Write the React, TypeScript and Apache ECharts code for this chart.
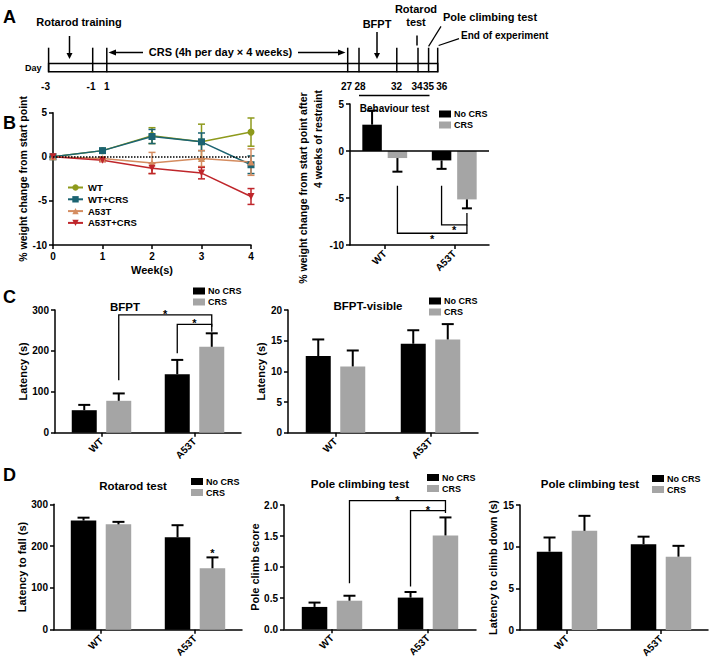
import React, { useEffect, useRef } from 'react';
import * as echarts from 'echarts';

const FONT = '"Liberation Sans", Arial, Helvetica, sans-serif';
const GREY = '#a5a5a5';

// ---------- Panel A: timeline (days) ----------
const timelineDays = [-3, -1, 1, 27, 28, 32, 34, 35, 36];

// ---------- Panel B (left): weight change over weeks ----------
const weeks = [0, 1, 2, 3, 4];
const wtWeight = [0, 0.7, 2.4, 1.7, 2.8];
const wtWeightErr = [0, 0.15, 0.9, 2.0, 1.6];
const wtCrsWeight = [0, 0.7, 2.3, 1.7, -0.9];
const wtCrsWeightErr = [0, 0.2, 0.8, 1.0, 1.0];
const a53tWeight = [0, -0.2, -0.7, -0.2, -0.6];
const a53tWeightErr = [0, 0.2, 1.2, 0.9, 1.5];
const a53tCrsWeight = [0, -0.4, -1.3, -1.85, -4.5];
const a53tCrsWeightErr = [0, 0.15, 0.6, 0.65, 0.9];

// ---------- Bar panels ----------
const genotypes = ['WT', 'A53T'];
const weightNoCrs = [2.8, -1.0];
const weightNoCrsErr = [1.5, 0.9];
const weightCrs = [-0.75, -5.15];
const weightCrsErr = [1.45, 0.95];

const bfptNoCrs = [55, 143];
const bfptNoCrsErr = [13, 35];
const bfptCrs = [78, 210];
const bfptCrsErr = [18, 33];

const bfptVisNoCrs = [12.5, 14.5];
const bfptVisNoCrsErr = [2.7, 2.2];
const bfptVisCrs = [10.8, 15.2];
const bfptVisCrsErr = [2.6, 2.5];

const rotarodNoCrs = [261, 221];
const rotarodNoCrsErr = [7, 29];
const rotarodCrs = [252, 147];
const rotarodCrsErr = [6, 26];

const poleScoreNoCrs = [0.36, 0.51];
const poleScoreNoCrsErr = [0.07, 0.09];
const poleScoreCrs = [0.46, 1.51];
const poleScoreCrsErr = [0.08, 0.29];

const poleTimeNoCrs = [9.4, 10.3];
const poleTimeNoCrsErr = [1.7, 0.9];
const poleTimeCrs = [11.9, 8.8];
const poleTimeCrsErr = [1.8, 1.3];

// significance brackets: [cat1, bar1, yStart1, cat2, bar2, yStart2, yBracket]
const weightBrackets = [
  [1, 0, -3.7, 1, 1, -6.6, -7.85],
  [0, 1, -3.7, 1, 1, -7.85, -8.75],
];
const bfptBrackets = [
  [0, 1, 128, 1, 1, 259, 288],
  [1, 0, 194, 1, 1, 247, 265],
];
const poleScoreBrackets = [
  [0, 1, 0.74, 1, 1, 1.91, 2.07],
  [1, 0, 0.69, 1, 1, 1.87, 1.91],
];
// lone star: [cat, bar, y]
const rotarodStars = [[1, 1, 190]];

// ---------- layout (positions, not data) ----------
const dayTickX = [48.6, 92.7, 106.8, 347.7, 359, 396.8, 418, 428.6, 437.7];
const dayLabelX = [45.5, 91, 106.8, 346.6, 360, 396.6, 417, 428.6, 441.7];

const grids = [
  { left: 53, top: 112.7, width: 198, height: 132.3 },
  { left: 350, top: 104, width: 139, height: 141 },
  { left: 55, top: 310, width: 186, height: 122.7 },
  { left: 288, top: 310, width: 190, height: 122.7 },
  { left: 54, top: 504.3, width: 188, height: 125.4 },
  { left: 284, top: 505, width: 192, height: 124.3 },
  { left: 520, top: 505, width: 188, height: 125 },
];

const txt = (text: string, x: number, y: number, size: number, align = 'center', vAlign = 'middle', rotation = 0) => ({
  type: 'text', x, y, rotation, silent: true,
  style: { text, fontSize: size, fontWeight: 'bold', fontFamily: FONT, fill: '#000', textAlign: align, textVerticalAlign: vAlign },
});
const ln = (x1: number, y1: number, x2: number, y2: number, w = 1.5) => ({
  type: 'line', silent: true, shape: { x1, y1, x2, y2 }, style: { stroke: '#000', lineWidth: w },
});
const tri = (pts: number[][]) => ({ type: 'polygon', silent: true, shape: { points: pts }, style: { fill: '#000' } });
const downArrow = (x: number, y1: number, y2: number) => [ln(x, y1, x, y2 - 4), tri([[x - 3, y2 - 6], [x + 3, y2 - 6], [x, y2]])];

const axisLineStyle = { show: true, onZero: false, lineStyle: { color: '#000', width: 1.5 } };
const axisTickStyle = { show: true, length: 4, lineStyle: { color: '#000', width: 1.5 } };
const labelStyle = { color: '#000', fontSize: 10, fontWeight: 'bold', fontFamily: FONT, margin: 6 };
const nameStyle = { color: '#000', fontSize: 11, fontWeight: 'bold', fontFamily: FONT };

function valueY(idx: number, min: number, max: number, interval: number, name: string, nameGap: number, fmt?: (v: number) => string) {
  return {
    type: 'value', gridIndex: idx, min, max, interval,
    name, nameLocation: 'middle', nameGap, nameTextStyle: nameStyle,
    axisLine: axisLineStyle, axisTick: axisTickStyle,
    axisLabel: fmt ? { ...labelStyle, formatter: fmt } : labelStyle,
    splitLine: { show: false },
  };
}
function catX(idx: number) {
  return {
    type: 'category', gridIndex: idx, data: genotypes, boundaryGap: true,
    axisLine: axisLineStyle, axisTick: { ...axisTickStyle, alignWithLabel: true },
    axisLabel: { ...labelStyle, rotate: 45, margin: 7 },
    splitLine: { show: false },
  };
}

function barErr(idx: number, vals: number[], errs: number[], barIndex: number, W: number, gap: number, cap: number) {
  const off = ((W * (1 + gap)) / 2) * (barIndex === 0 ? -1 : 1);
  return {
    type: 'custom', name: 'err' + idx + '_' + barIndex, xAxisIndex: idx, yAxisIndex: idx, z: 5, silent: true,
    encode: { x: 0, y: 1 },
    data: vals.map((v, i) => [i, v, errs[i]]),
    renderItem: (_p: any, api: any) => {
      const cat = api.value(0), v = api.value(1), e = api.value(2);
      const base = api.coord([cat, v]);
      const end = api.coord([cat, v + (v >= 0 ? e : -e)]);
      const x = base[0] + off;
      return {
        type: 'group', children: [
          { type: 'line', shape: { x1: x, y1: base[1], x2: x, y2: end[1] }, style: { stroke: '#000', lineWidth: 2 } },
          { type: 'line', shape: { x1: x - cap / 2, y1: end[1], x2: x + cap / 2, y2: end[1] }, style: { stroke: '#000', lineWidth: 2 } },
        ],
      };
    },
  };
}

function brackets(idx: number, data: number[][], W: number, gap: number) {
  const off = (W * (1 + gap)) / 2;
  return {
    type: 'custom', name: 'sig' + idx, xAxisIndex: idx, yAxisIndex: idx, z: 6, silent: true,
    encode: { x: 0, y: 2 },
    data,
    renderItem: (_p: any, api: any) => {
      const c1 = api.value(0), b1 = api.value(1), y1 = api.value(2);
      const c2 = api.value(3), b2 = api.value(4), y2 = api.value(5), ym = api.value(6);
      const p1 = api.coord([c1, y1]);
      const p2 = api.coord([c2, y2]);
      const pm = api.coord([c2, ym]);
      const x1 = p1[0] + (b1 === 0 ? -off : off);
      const x2 = p2[0] + (b2 === 0 ? -off : off);
      const up = ym > y1;
      return {
        type: 'group', children: [
          { type: 'polyline', shape: { points: [[x1, p1[1]], [x1, pm[1]], [x2, pm[1]], [x2, p2[1]]] }, style: { stroke: '#000', lineWidth: 1.3, fill: null } },
          { type: 'text', style: { text: '*', x: (x1 + x2) / 2, y: pm[1] + (up ? -1 : 5.5), textAlign: 'center', textVerticalAlign: 'middle', fontSize: 11, fontWeight: 'bold', fontFamily: FONT, fill: '#000' } },
        ],
      };
    },
  };
}

function stars(idx: number, data: number[][], W: number, gap: number) {
  const off = (W * (1 + gap)) / 2;
  return {
    type: 'custom', name: 'star' + idx, xAxisIndex: idx, yAxisIndex: idx, z: 6, silent: true,
    encode: { x: 0, y: 2 },
    data,
    renderItem: (_p: any, api: any) => {
      const p = api.coord([api.value(0), api.value(2)]);
      const x = p[0] + (api.value(1) === 0 ? -off : off);
      return { type: 'text', style: { text: '*', x, y: p[1] + 2.5, textAlign: 'center', textVerticalAlign: 'middle', fontSize: 11, fontWeight: 'bold', fontFamily: FONT, fill: '#000' } };
    },
  };
}

function barPair(idx: number, noCrs: number[], noErr: number[], crs: number[], crsErr: number[], W: number, gap: number, cap: number, zeroLine = false) {
  const s: any[] = [
    {
      type: 'bar', name: 'No CRS', xAxisIndex: idx, yAxisIndex: idx, data: noCrs, barWidth: W, barGap: gap * 100 + '%',
      itemStyle: { color: '#000' }, silent: true,
      markLine: zeroLine ? { silent: true, symbol: 'none', label: { show: false }, lineStyle: { color: '#000', width: 1.5, type: 'solid' }, data: [{ yAxis: 0 }] } : undefined,
    },
    { type: 'bar', name: 'CRS', xAxisIndex: idx, yAxisIndex: idx, data: crs, barWidth: W, barGap: gap * 100 + '%', itemStyle: { color: GREY }, silent: true },
    barErr(idx, noCrs, noErr, 0, W, gap, cap),
    barErr(idx, crs, crsErr, 1, W, gap, cap),
  ];
  return s;
}

function lineSeries(name: string, vals: number[], errs: number[], color: string, symbol: string, withZero = false) {
  return [
    {
      type: 'line', name, xAxisIndex: 0, yAxisIndex: 0, data: weeks.map((w, i) => [w, vals[i]]),
      symbol, symbolSize: 7, itemStyle: { color }, lineStyle: { color, width: 1.5 }, z: 4,
      markLine: withZero ? { silent: true, symbol: 'none', label: { show: false }, lineStyle: { color: '#000', width: 1.5, type: 'dotted' }, data: [{ yAxis: 0 }] } : undefined,
    },
    {
      type: 'custom', name: name + ' err', xAxisIndex: 0, yAxisIndex: 0, z: 3, silent: true,
      encode: { x: 0, y: 1 },
      data: weeks.map((w, i) => [w, vals[i], errs[i]]),
      renderItem: (_p: any, api: any) => {
        const w = api.value(0), v = api.value(1), e = api.value(2);
        const hi = api.coord([w, v + e]);
        const lo = api.coord([w, v - e]);
        const x = hi[0];
        const st = { stroke: color, lineWidth: 1.5 };
        return {
          type: 'group', children: [
            { type: 'line', shape: { x1: x, y1: hi[1], x2: x, y2: lo[1] }, style: st },
            { type: 'line', shape: { x1: x - 3.5, y1: hi[1], x2: x + 3.5, y2: hi[1] }, style: st },
            { type: 'line', shape: { x1: x - 3.5, y1: lo[1], x2: x + 3.5, y2: lo[1] }, style: st },
          ],
        };
      },
    },
  ];
}

function barLegend(left: number, top: number) {
  return {
    data: ['No CRS', 'CRS'], orient: 'vertical', left, top, padding: 0, itemGap: 2,
    itemWidth: 12, itemHeight: 7, icon: 'rect', selectedMode: false,
    textStyle: { color: '#000', fontSize: 9, fontWeight: 'bold', fontFamily: FONT, padding: [0, 0, 0, -2] },
  };
}

function buildOption() {
  const graphic: any[] = [];
  // panel letters
  graphic.push(txt('A', 3, 17, 18, 'left'));
  graphic.push(txt('B', 3, 123, 18, 'left'));
  graphic.push(txt('C', 3, 297, 18, 'left'));
  graphic.push(txt('D', 3, 475, 18, 'left'));

  // timeline
  graphic.push({ type: 'rect', silent: true, shape: { x: dayTickX[0], y: 63.6, width: dayTickX[dayTickX.length - 1] - dayTickX[0], height: 8.2 }, style: { fill: 'none', stroke: '#000', lineWidth: 1.5 } });
  timelineDays.forEach((d, i) => {
    graphic.push(ln(dayTickX[i], 47.7, dayTickX[i], 72.2));
    graphic.push(txt(String(d), dayLabelX[i], 86, 10));
  });
  graphic.push(txt('Day', 25, 68, 9, 'left'));
  graphic.push(txt('Rotarod training', 79, 22, 11));
  graphic.push(...downArrow(69.5, 36, 59));
  graphic.push(txt('CRS (4h per day × 4 weeks)', 220.5, 52.3, 11));
  graphic.push(ln(143, 52.5, 113, 52.5));
  graphic.push(tri([[108.5, 52.5], [116, 49.5], [116, 55.5]]));
  graphic.push(ln(298, 52.5, 341, 52.5));
  graphic.push(tri([[345.5, 52.5], [338, 49.5], [338, 55.5]]));
  graphic.push(txt('BFPT', 377, 23.6, 11));
  graphic.push(...downArrow(377, 32, 59));
  graphic.push(txt('Rotarod', 416, 9, 11));
  graphic.push(txt('test', 416, 22, 11));
  graphic.push(ln(417, 35.5, 417, 45.5));
  graphic.push(txt('Pole climbing test', 443, 16.5, 11, 'left'));
  graphic.push(ln(428.6, 46.4, 441, 26.4, 1.2));
  graphic.push(txt('End of experiment', 461, 35.5, 10, 'left'));
  graphic.push(ln(438.6, 45.5, 459, 38.6, 1.2));
  graphic.push(ln(359, 95.5, 429.5, 95.5));
  graphic.push(txt('Behaviour test', 394.5, 108, 10));

  // panel titles
  graphic.push(txt('BFPT', 125, 306.5, 11.5));
  graphic.push(txt('BFPT-visible', 368, 306, 11.5));
  graphic.push(txt('Rotarod test', 133, 486, 11.5));
  graphic.push(txt('Pole climbing test', 360, 484, 11.5));
  graphic.push(txt('Pole climbing test', 590, 484, 11.5));

  // B right y-axis title (two lines)
  graphic.push(txt('% weight change from start point after', 303, 188, 10.5, 'center', 'middle', Math.PI / 2));
  graphic.push(txt('4 weeks of restraint', 318, 139, 10.5, 'center', 'middle', Math.PI / 2));

  const xAxis: any[] = [
    {
      type: 'value', gridIndex: 0, min: 0, max: 4, interval: 1,
      name: 'Week(s)', nameLocation: 'middle', nameGap: 19, nameTextStyle: nameStyle,
      axisLine: axisLineStyle, axisTick: axisTickStyle, axisLabel: labelStyle, splitLine: { show: false },
    },
    catX(1), catX(2), catX(3), catX(4), catX(5), catX(6),
  ];
  const yAxis: any[] = [
    valueY(0, -10, 5, 5, '% weight change from start point', 19),
    valueY(1, -10, 5, 5, '', 20),
    valueY(2, 0, 300, 100, 'Latency (s)', 25),
    valueY(3, 0, 20, 5, 'Latency (s)', 20),
    valueY(4, 0, 300, 100, 'Latency to fall (s)', 22),
    valueY(5, 0, 2, 0.5, 'Pole climb score', 18, (v: number) => v.toFixed(1)),
    valueY(6, 0, 15, 5, 'Latency to climb down (s)', 16),
  ];
  yAxis[0].nameTextStyle = { ...nameStyle, fontSize: 10.5 };

  const invTri = 'path://M0,0L10,0L5,10Z';
  const series: any[] = [
    ...lineSeries('WT', wtWeight, wtWeightErr, '#8e9a1c', 'circle', true),
    ...lineSeries('WT+CRS', wtCrsWeight, wtCrsWeightErr, '#1b6371', 'rect'),
    ...lineSeries('A53T', a53tWeight, a53tWeightErr, '#d48c60', 'triangle'),
    ...lineSeries('A53T+CRS', a53tCrsWeight, a53tCrsWeightErr, '#bf262b', invTri),
    ...barPair(1, weightNoCrs, weightNoCrsErr, weightCrs, weightCrsErr, 19.5, 0.3, 10, true),
    brackets(1, weightBrackets, 19.5, 0.3),
    ...barPair(2, bfptNoCrs, bfptNoCrsErr, bfptCrs, bfptCrsErr, 25, 0.38, 12),
    brackets(2, bfptBrackets, 25, 0.38),
    ...barPair(3, bfptVisNoCrs, bfptVisNoCrsErr, bfptVisCrs, bfptVisCrsErr, 25, 0.38, 12),
    ...barPair(4, rotarodNoCrs, rotarodNoCrsErr, rotarodCrs, rotarodCrsErr, 25.5, 0.37, 12),
    stars(4, rotarodStars, 25.5, 0.37),
    ...barPair(5, poleScoreNoCrs, poleScoreNoCrsErr, poleScoreCrs, poleScoreCrsErr, 25.5, 0.37, 12),
    brackets(5, poleScoreBrackets, 25.5, 0.37),
    ...barPair(6, poleTimeNoCrs, poleTimeNoCrsErr, poleTimeCrs, poleTimeCrsErr, 25.5, 0.37, 12),
  ];

  const legend: any[] = [
    {
      data: ['WT', 'WT+CRS', 'A53T', 'A53T+CRS'], orient: 'vertical', left: 67, top: 182.5, padding: 0, itemGap: 1.8,
      itemWidth: 15, itemHeight: 8, selectedMode: false,
      textStyle: { color: '#000', fontSize: 9.5, fontWeight: 'bold', fontFamily: FONT },
    },
    barLegend(439, 109.5),
    barLegend(193, 286.5),
    barLegend(429, 296.5),
    barLegend(191, 477),
    barLegend(427, 473),
    barLegend(652, 474),
  ];

  return {
    animation: false,
    backgroundColor: '#fff',
    textStyle: { fontFamily: FONT },
    grid: grids.map((g) => ({ ...g, containLabel: false, outerBoundsMode: 'none' })),
    xAxis, yAxis, series, legend, graphic,
  };
}

export default function App() {
  const ref = useRef<HTMLDivElement>(null);
  useEffect(() => {
    document.body.style.margin = '0';
    const chart = echarts.init(ref.current!, null, { renderer: 'svg' });
    chart.setOption(buildOption() as any);
    return () => chart.dispose();
  }, []);
  return <div ref={ref} style={{ width: 709, height: 658 }} />;
}
